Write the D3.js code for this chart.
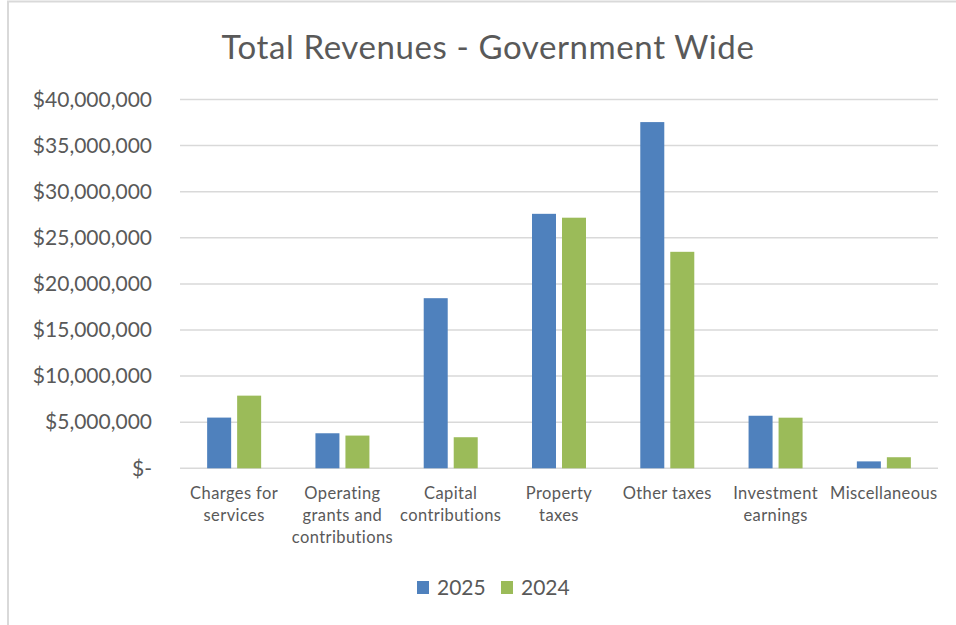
<!DOCTYPE html>
<html>
<head>
<meta charset="utf-8">
<script src="https://cdn.jsdelivr.net/npm/d3@7"></script>
<style>
  html, body { margin: 0; padding: 0; background: #fff; }
  svg { display: block; }
  text { font-family: Lato, "Open Sans", sans-serif; fill: #595959; }
</style>
</head>
<body>
<svg id="chart" width="956" height="625"></svg>
<script>
// Revenue categories (multi-line labels)
const categories = [
  ["Charges for", "services"],
  ["Operating", "grants and", "contributions"],
  ["Capital", "contributions"],
  ["Property", "taxes"],
  ["Other taxes"],
  ["Investment", "earnings"],
  ["Miscellaneous"]
];
const seriesNames = ["2025", "2024"];
const values2025 = [5500000, 3800000, 18450000, 27600000, 37550000, 5700000, 750000];
const values2024 = [7880000, 3550000, 3370000, 27180000, 23480000, 5490000, 1200000];
const yTicks = [0, 5000000, 10000000, 15000000, 20000000, 25000000, 30000000, 35000000, 40000000];
const colors = ["#4F81BD", "#9BBB59"];

const svg = d3.select("#chart");
const W = 956, H = 625;

// chart frame
svg.append("path")
  .attr("d", `M8,${H + 2} L8,1.5 L${W + 2},1.5`)
  .attr("fill", "none").attr("stroke", "#d9d9d9").attr("stroke-width", 2);

const plotLeft = 180, plotRight = 938, plotTop = 99.5, plotBottom = 468.3;
const keys = categories.map((c, i) => i);

const x = d3.scaleBand().domain(keys).range([plotLeft, plotRight]).paddingInner(0).paddingOuter(0);
const y = d3.scaleLinear().domain([0, 40000000]).range([plotBottom, plotTop]);

// gridlines
svg.append("g").selectAll("line").data(yTicks).join("line")
  .attr("x1", plotLeft).attr("x2", plotRight)
  .attr("y1", d => y(d)).attr("y2", d => y(d))
  .attr("stroke", "#d9d9d9").attr("stroke-width", 1.5);

// y-axis labels
const fmt = d => d === 0 ? "$-" : "$" + d3.format(",")(d);
const yAxis = d3.axisLeft(y).tickValues(yTicks).tickFormat(fmt).tickSize(0).tickPadding(28);
const gy = svg.append("g").attr("transform", `translate(${plotLeft},0)`).call(yAxis);
gy.select(".domain").remove();
gy.selectAll("text").attr("font-size", 21).attr("fill", "#595959")
  .style("font-family", "Lato, 'Open Sans', sans-serif");

// bars: two per category, 24px wide with a 6px gap
const barW = 24, gap = 6;
const x1 = d3.scaleBand().domain([0, 1])
  .range([-(barW + gap / 2), barW + gap / 2])
  .paddingInner(gap / (barW + gap)).paddingOuter(0);
const series = [values2025, values2024];
series.forEach((vals, s) => {
  svg.append("g").selectAll("rect").data(vals).join("rect")
    .attr("x", (d, i) => x(i) + x.bandwidth() / 2 + x1(s))
    .attr("width", x1.bandwidth())
    .attr("y", d => y(d))
    .attr("height", d => y(0) - y(d))
    .attr("fill", colors[s]);
});

// category labels
const cat = svg.append("g");
categories.forEach((lines, i) => {
  const cx = x(i) + x.bandwidth() / 2;
  const t = cat.append("text")
    .attr("x", cx)
    .attr("y", 499)
    .attr("text-anchor", "middle")
    .attr("font-size", 16.5)
    .attr("letter-spacing", 0.4);
  lines.forEach((ln, j) => {
    t.append("tspan").attr("x", cx).attr("dy", j === 0 ? 0 : 22).text(ln);
  });
});

// title
svg.append("text")
  .attr("x", 488).attr("y", 59)
  .attr("text-anchor", "middle")
  .attr("font-size", 33)
  .attr("letter-spacing", 0.6)
  .text("Total Revenues - Government Wide");

// legend
const legend = svg.append("g");
const legendX = [417, 501];
seriesNames.forEach((name, s) => {
  legend.append("rect")
    .attr("x", legendX[s]).attr("y", 581)
    .attr("width", 12).attr("height", 13)
    .attr("fill", colors[s]);
  legend.append("text")
    .attr("x", legendX[s] + 20).attr("y", 595)
    .attr("font-size", 21)
    .text(name);
});
</script>
</body>
</html>
